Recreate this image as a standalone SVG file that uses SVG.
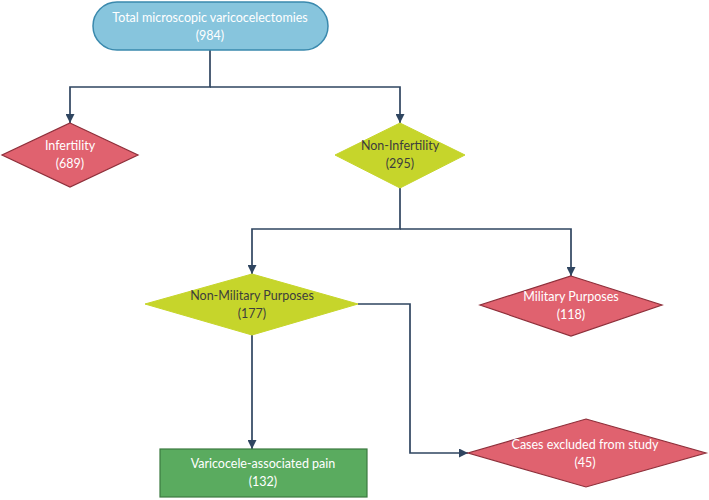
<svg xmlns="http://www.w3.org/2000/svg" width="709" height="500" viewBox="0 0 709 500">
<defs>
<style>
text{font-family:Lato,"Open Sans","Liberation Sans",sans-serif;font-size:12.5px;text-anchor:middle}
.w{fill:#ffffff}
.d{fill:#3d3d3d}
.red{fill:#e0626f;stroke:#8e2f3a;stroke-width:1.2}
.yel{fill:#c6d52b;stroke:#c6d52b;stroke-width:1}
.conn{fill:none;stroke:#2f4560;stroke-width:1.7}
</style>
<marker id="ah" viewBox="0 0 10 10" refX="10" refY="5" markerWidth="9" markerHeight="9" orient="auto" markerUnits="userSpaceOnUse">
<path d="M0,0 L10,5 L0,10 Z" fill="#2f4560"/>
</marker>
</defs>
<g id="connectors">
<path class="conn" d="M210,50 V87 H70 V123" marker-end="url(#ah)"/>
<path class="conn" d="M210,87 H400 V123" marker-end="url(#ah)"/>
<path class="conn" d="M400,188 V229 H252 V274" marker-end="url(#ah)"/>
<path class="conn" d="M400,229 H571 V276" marker-end="url(#ah)"/>
<path class="conn" d="M252,335 V449" marker-end="url(#ah)"/>
<path class="conn" d="M358,304 H410 V453 H468" marker-end="url(#ah)"/>
</g>
<g id="n-total">
<rect x="93" y="2" width="235" height="48" rx="24" fill="#87c5dd" stroke="#3a89ad" stroke-width="1.5"/>
<text class="w" x="210" y="22">Total microscopic varicocelectomies</text>
<text class="w" x="210" y="40">(984)</text>
</g>
<g id="n-infertility">
<polygon class="red" points="70,123 138,155 70,187 2,155"/>
<text class="w" x="70" y="150">Infertility</text>
<text class="w" x="70" y="168">(689)</text>
</g>
<g id="n-noninfertility">
<polygon class="yel" points="400,123 465,155 400,188 335,155"/>
<text class="d" x="400" y="150">Non-Infertility</text>
<text class="d" x="400" y="168">(295)</text>
</g>
<g id="n-nonmilitary">
<polygon class="yel" points="252,274 358,304 252,335 145,304"/>
<text class="d" x="252" y="300">Non-Military Purposes</text>
<text class="d" x="252" y="318">(177)</text>
</g>
<g id="n-military">
<polygon class="red" points="571,276 662,305 571,336 480,305"/>
<text class="w" x="571" y="301">Military Purposes</text>
<text class="w" x="571" y="319">(118)</text>
</g>
<g id="n-pain">
<rect x="160" y="449" width="207" height="48" fill="#5aab5f" stroke="#3b7a40" stroke-width="1.2"/>
<text class="w" x="263" y="468">Varicocele-associated pain</text>
<text class="w" x="263" y="486">(132)</text>
</g>
<g id="n-excluded">
<polygon class="red" points="586,419 706,453 586,487 468,453"/>
<text class="w" x="585" y="449">Cases excluded from study</text>
<text class="w" x="585" y="467">(45)</text>
</g>
</svg>
